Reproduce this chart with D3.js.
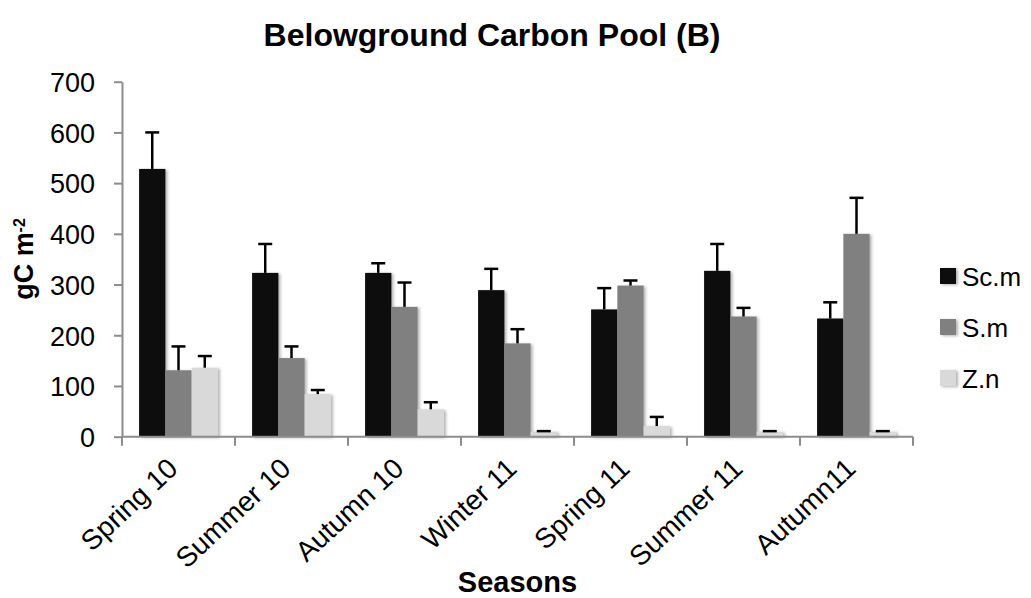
<!DOCTYPE html>
<html>
<head>
<meta charset="utf-8">
<script src="https://cdn.jsdelivr.net/npm/d3@7"></script>
<style>
body { margin: 0; background: #fff; }
text { font-family: "Liberation Sans", Arial, sans-serif; fill: #000; }
</style>
</head>
<body>
<svg width="1031" height="598"></svg>
<script>
var seasons = ["Spring 10", "Summer 10", "Autumn 10", "Winter 11", "Spring 11", "Summer 11", "Autumn11"];
var series = ["Sc.m", "S.m", "Z.n"];
var scm    = [528, 323, 323, 289, 251, 327, 233];
var scmErr = [72, 57, 19, 42, 42, 53, 32];
var sm     = [131, 155, 256, 184, 298, 237, 400];
var smErr  = [47, 23, 48, 28, 10, 17, 71];
var zn     = [136, 84, 54, 10, 21, 10, 10];
var znErr  = [23, 8, 14, 1, 18, 1, 1];
var yTicks = [0, 100, 200, 300, 400, 500, 600, 700];

var vals = {"Sc.m": scm, "S.m": sm, "Z.n": zn},
    errs = {"Sc.m": scmErr, "S.m": smErr, "Z.n": znErr};

var svg = d3.select("svg"),
    margin = {top: 81.7, right: 118, bottom: 161.3, left: 122},
    width = +svg.attr("width") - margin.left - margin.right,
    height = +svg.attr("height") - margin.top - margin.bottom,
    g = svg.append("g").attr("transform", "translate(" + margin.left + "," + margin.top + ")");

var axisColor = "#8c8c8c";

// soft shadow like the excel bars
var f = svg.append("defs").append("filter").attr("id", "shadow")
    .attr("x", "-20%").attr("y", "-20%").attr("width", "150%").attr("height", "150%");
f.append("feDropShadow").attr("dx", 2).attr("dy", 1).attr("stdDeviation", 1.5)
    .attr("flood-color", "#000").attr("flood-opacity", 0.3);

var x0 = d3.scaleBand().domain(seasons).range([0, width]);
var x1 = d3.scaleBand().domain(series).range([0, x0.bandwidth()]).paddingOuter(0.65);
var y = d3.scaleLinear().domain([0, 700]).range([height, 0]);
var z = d3.scaleOrdinal().domain(series).range(["#0d0d0d", "#808080", "#d9d9d9"]);

var data = seasons.map(function(s, i) {
  return series.map(function(k) { return {season: s, key: k, value: vals[k][i], err: errs[k][i]}; });
});

var grp = g.selectAll(".season")
  .data(data)
  .enter().append("g")
    .attr("class", "season")
    .attr("transform", function(d, i) { return "translate(" + x0(seasons[i]) + ",0)"; });

grp.selectAll("rect")
  .data(function(d) { return d; })
  .enter().append("rect")
    .attr("x", function(d) { return x1(d.key); })
    .attr("y", function(d) { return y(d.value); })
    .attr("width", x1.bandwidth())
    .attr("height", function(d) { return height - y(d.value); })
    .attr("fill", function(d) { return z(d.key); })
    .attr("filter", "url(#shadow)");

// error bars (upper only)
var eb = grp.selectAll(".err")
  .data(function(d) { return d; })
  .enter().append("g")
    .attr("class", "err")
    .attr("stroke", "#000")
    .attr("stroke-width", 2.5);
eb.append("line")
    .attr("x1", function(d) { return x1(d.key) + x1.bandwidth() / 2; })
    .attr("x2", function(d) { return x1(d.key) + x1.bandwidth() / 2; })
    .attr("y1", function(d) { return y(d.value); })
    .attr("y2", function(d) { return y(d.value + d.err); });
eb.append("line")
    .attr("x1", function(d) { return x1(d.key) + x1.bandwidth() / 2 - 7; })
    .attr("x2", function(d) { return x1(d.key) + x1.bandwidth() / 2 + 7; })
    .attr("y1", function(d) { return y(d.value + d.err); })
    .attr("y2", function(d) { return y(d.value + d.err); });

// y axis
var ya = g.append("g")
    .attr("class", "axis axis--y")
    .call(d3.axisLeft(y).tickValues(yTicks).tickSize(8).tickSizeOuter(0).tickPadding(19));
ya.select(".domain").attr("stroke", axisColor).attr("stroke-width", 2);
ya.selectAll(".tick line").attr("stroke", axisColor).attr("stroke-width", 2);
ya.selectAll(".tick text")
    .attr("dy", "0.36em")
    .style("font-size", "27px")
    .style("font-family", "'Liberation Sans', Arial, sans-serif")
    .attr("fill", "#000");

// x axis
var xa = g.append("g").attr("class", "axis axis--x").attr("transform", "translate(0," + height + ")");
xa.append("line").attr("x1", 0).attr("x2", width)
    .attr("stroke", axisColor).attr("stroke-width", 2);
xa.selectAll(".tk")
  .data(seasons.map(function(s) { return x0(s); }).concat([width]))
  .enter().append("line")
    .attr("class", "tk")
    .attr("x1", function(d) { return d; }).attr("x2", function(d) { return d; })
    .attr("y1", 0).attr("y2", 9)
    .attr("stroke", axisColor).attr("stroke-width", 2);
xa.selectAll(".lbl")
  .data(seasons)
  .enter().append("text")
    .attr("class", "lbl")
    .attr("text-anchor", "end")
    .attr("transform", function(d) {
      return "translate(" + (x0(d) + x0.bandwidth() / 2 + 1) + ",34) rotate(-43)";
    })
    .style("font-size", "28px")
    .text(function(d) { return d; });

// titles
svg.append("text")
    .attr("text-anchor", "middle")
    .attr("x", 492).attr("y", 46)
    .style("font-size", "32px").style("font-weight", "bold")
    .text("Belowground Carbon Pool (B)");

svg.append("text")
    .attr("text-anchor", "middle")
    .attr("x", margin.left + width / 2).attr("y", 592)
    .style("font-size", "29px").style("font-weight", "bold")
    .text("Seasons");

var yl = svg.append("text")
    .attr("text-anchor", "middle")
    .attr("transform", "translate(33,259) rotate(-90)")
    .style("font-size", "27px").style("font-weight", "bold");
yl.append("tspan").text("gC m");
yl.append("tspan").attr("baseline-shift", "super").style("font-size", "16px").text("-2");

// legend
var legend = svg.append("g").attr("transform", "translate(940,268)")
  .selectAll("g")
  .data(series)
  .enter().append("g")
    .attr("transform", function(d, i) { return "translate(0," + i * 51 + ")"; });
legend.append("rect").attr("width", 16).attr("height", 16)
    .attr("fill", function(d) { return z(d); })
    .attr("filter", "url(#shadow)");
legend.append("text")
    .attr("x", 22).attr("y", 18)
    .style("font-size", "26px")
    .text(function(d) { return d; });
</script>
</body>
</html>
